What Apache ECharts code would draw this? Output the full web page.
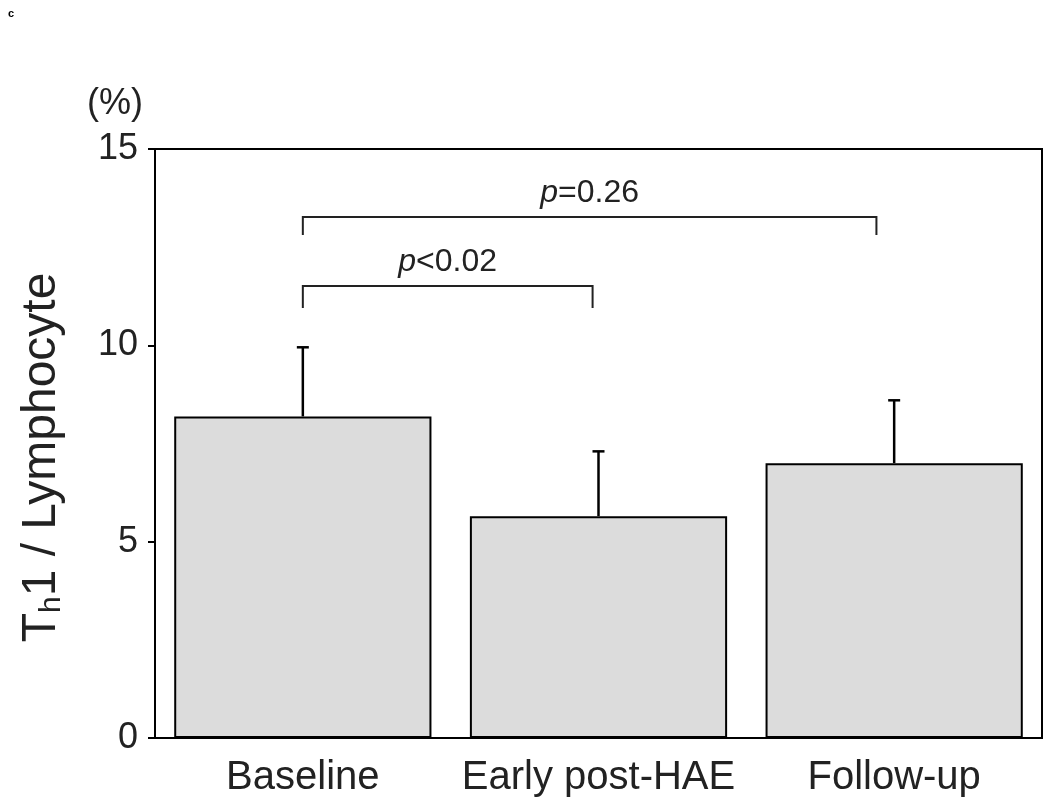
<!DOCTYPE html>
<html>
<head>
<meta charset="utf-8">
<script src="https://cdn.jsdelivr.net/npm/echarts@6/dist/echarts.min.js"></script>
<style>
  html, body { margin: 0; padding: 0; background: #fff; }
  #chart { width: 1050px; height: 804px; }
</style>
</head>
<body>
<div id="chart"></div>
<script>
// data
const categories = ['Baseline', 'Early post-HAE', 'Follow-up']
const means = [8.19, 5.65, 7.0]
const upperErr = [9.95, 7.3, 8.6]
const yTicks = [0, 5, 10, 15]

// significance brackets: [from, to, top, tickBottom] on a hidden value axis (category index units)
const brackets = [
  [0, 1.94, 13.27, 12.81],
  [0, 0.98, 11.51, 10.95]
]
const bracketLabels = ['=0.26', '<0.02']

const chart = echarts.init(document.getElementById('chart'))
const font = 'Liberation Sans, Arial, sans-serif'

chart.setOption({
  animation: false,
  grid: {
    left: 155, right: 8, top: 149, bottom: 66,
    outerBoundsMode: 'none',
    containLabel: false,
    show: true, borderColor: '#000', borderWidth: 2, backgroundColor: 'transparent'
  },
  graphic: [
    { type: 'text', left: 8, top: 8, style: { text: 'c', font: 'bold 11px ' + font, fill: '#000' } },
    { type: 'text', left: 87, top: 86, style: { text: '(%)', font: '36px ' + font, fill: '#222' } }
  ],
  xAxis: [
    {
      type: 'category',
      data: categories,
      axisTick: { show: false },
      axisLine: { lineStyle: { color: '#000', width: 2 } },
      axisLabel: { color: '#222', fontSize: 40, fontFamily: font, margin: 20, interval: 0 }
    },
    { type: 'value', min: -0.5, max: 2.5, show: false }
  ],
  yAxis: {
    type: 'value',
    min: 0,
    max: 15,
    interval: 5,
    splitLine: { show: false },
    axisLine: { show: true, onZero: false, lineStyle: { color: '#000', width: 2 } },
    axisTick: { show: true, length: 7, lineStyle: { color: '#000', width: 2 } },
    axisLabel: {
      color: '#222', fontSize: 36, fontFamily: font, margin: 17,
      formatter: v => yTicks.includes(v) ? String(v) : ''
    },
    name: '{a|T}{s|h}{a|1 / Lymphocyte}',
    nameLocation: 'middle',
    nameRotate: 90,
    nameGap: 88,
    nameTextStyle: {
      padding: [0, 28, 0, 0],
      rich: {
        a: { fontSize: 48, fontFamily: font, color: '#222' },
        s: { fontSize: 30, fontFamily: font, color: '#222', padding: [20, 0, 0, 0] }
      }
    }
  },
  series: [
    {
      type: 'bar',
      data: means,
      barWidth: '87%',
      itemStyle: { color: '#dcdcdc', borderColor: '#000', borderWidth: 2 },
      z: 2
    },
    {
      type: 'custom',
      data: categories.map((c, i) => [i, means[i], upperErr[i]]),
      z: 3,
      renderItem: (params, api) => {
        const base = api.coord([api.value(0), api.value(1)])
        const top = api.coord([api.value(0), api.value(2)])
        const st = { stroke: '#000', lineWidth: 2.5 }
        return {
          type: 'group',
          children: [
            { type: 'line', shape: { x1: base[0], y1: base[1], x2: top[0], y2: top[1] }, style: st },
            { type: 'line', shape: { x1: top[0] - 6, y1: top[1], x2: top[0] + 6, y2: top[1] }, style: st }
          ]
        }
      }
    },
    {
      type: 'custom',
      xAxisIndex: 1,
      data: brackets,
      z: 3,
      renderItem: (params, api) => {
        const x1 = api.value(0), x2 = api.value(1), yt = api.value(2), yb = api.value(3)
        const a = api.coord([x1, yb]), b = api.coord([x1, yt])
        const c = api.coord([x2, yt]), d = api.coord([x2, yb])
        return {
          type: 'group',
          children: [
            {
              type: 'polyline',
              shape: { points: [a, b, c, d] },
              style: { stroke: '#222', lineWidth: 2, fill: null }
            },
            {
              type: 'text',
              x: (b[0] + c[0]) / 2,
              y: b[1] - 8,
              style: {
                text: '{i|p}{n|' + bracketLabels[params.dataIndex] + '}',
                align: 'center',
                verticalAlign: 'bottom',
                rich: {
                  i: { fontSize: 32, fontStyle: 'italic', fontFamily: font, fill: '#222' },
                  n: { fontSize: 32, fontFamily: font, fill: '#222' }
                }
              }
            }
          ]
        }
      }
    }
  ]
})
</script>
</body>
</html>
